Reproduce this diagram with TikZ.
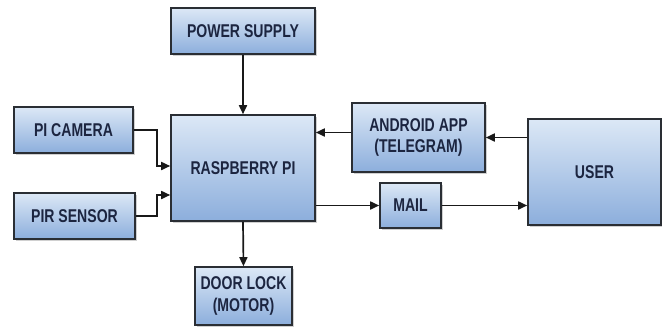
\documentclass[tikz,border=0pt]{standalone}
\usepackage{fontspec}
\newfontfamily\lblfont{Liberation Sans}[FakeStretch=0.76]
\usetikzlibrary{shadows,arrows.meta}
\definecolor{boxtop}{HTML}{DCE8F6}
\definecolor{boxbot}{HTML}{8CAEDC}
\definecolor{boxline}{HTML}{2A2E34}
\definecolor{txt}{HTML}{1C2540}
\tikzset{
  blk/.style={draw=boxline, line width=1.6pt, top color=boxtop, bottom color=boxbot,
    drop shadow={shadow xshift=2pt, shadow yshift=-2pt, fill=black!30, opacity=0.6},
    font=\lblfont\bfseries\fontsize{18.5}{18.5}\selectfont, text=txt, align=center,
    inner sep=0pt, anchor=center},
  arr/.style={draw=black!90, line width=1.7pt, -{Triangle[length=9pt,width=8pt]}},
}
\begin{document}
\begin{tikzpicture}[x=1pt,y=-1pt]
\useasboundingbox[fill=white] (0,0) rectangle (662,327);
\node[blk, minimum width=144pt, minimum height=46pt] (ps) at (243,31) {POWER SUPPLY};
\node[blk, minimum width=119pt, minimum height=46pt] (cam) at (73.5,130) {PI CAMERA};
\node[blk, minimum width=121pt, minimum height=46pt] (pir) at (74.5,216) {PIR SENSOR};
\node[blk, minimum width=144pt, minimum height=106pt] (rpi) at (243,168) {RASPBERRY PI};
\node[blk, minimum width=97pt, minimum height=58pt] (door) at (243.5,296) {DOOR LOCK\\[3pt](MOTOR)};
\node[blk, minimum width=133pt, minimum height=69pt] (andr) at (418.5,137.5) {ANDROID APP\\[3pt](TELEGRAM)};
\node[blk, minimum width=61pt, minimum height=45pt] (mail) at (410.5,205.5) {MAIL};
\node[blk, minimum width=133pt, minimum height=106pt] (user) at (594.5,172) {USER};
\coordinate (c1) at (157,166);
\coordinate (c2) at (157,195);
\draw[arr] (ps.south) -- (rpi.north);
\draw[arr] (cam.east) -| (c1) -- (rpi.west |- c1);
\draw[arr] (pir.east) -| (c2) -- (rpi.west |- c2);
\draw[arr] (andr.east -| user.west) -- (andr.east);
\draw[arr] ([yshift=5pt]andr.west) -- ([yshift=5pt]andr.west -| rpi.east);
\draw[arr] (mail.west -| rpi.east) -- (mail.west);
\draw[arr] (mail.east) -- (mail.east -| user.west);
\draw[arr] (rpi.south) -- (door.north);
\end{tikzpicture}
\end{document}
